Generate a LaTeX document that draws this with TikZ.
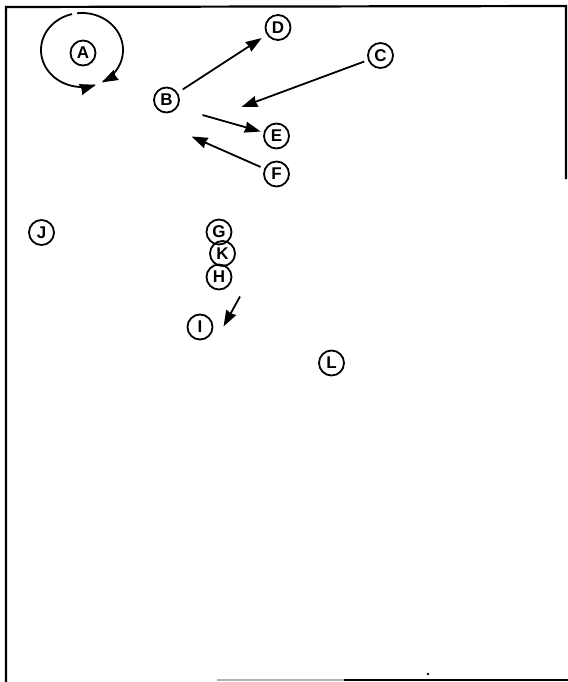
\documentclass[tikz,border=0pt]{standalone}
\usepackage{fontspec}
\newfontfamily\labfont{Liberation Sans}
\usetikzlibrary{arrows.meta}
\tikzset{
  lbl/.style={circle,draw,line width=1.8pt,minimum size=25pt,inner sep=0pt,
    font=\labfont\bfseries\fontsize{17}{17}\selectfont},
  arr/.style={line width=1.8pt,-{Stealth[length=16pt,width=11pt,inset=1pt]}},
  frame/.style={line width=2.2pt,line cap=rect}
}
\begin{document}
\begin{tikzpicture}[x=1pt,y=-1pt]
\useasboundingbox (0,0) rectangle (567,682);
% frame
\coordinate (tl) at (6,7);
\coordinate (tr) at (566,6);
\coordinate (rb) at (566,178);
\coordinate (bl) at (6,681);
\coordinate (b1) at (218,680);
\coordinate (b2) at (345,680);
\coordinate (br) at (567,680);
\draw[frame] (bl) -- (tl) -- (tr) -- (rb);
\draw[frame,gray!60] (b1) -- (b2);
\draw[frame] (b2) -- (br);
\fill (428,674) circle (1.3pt);
% nodes
\node[lbl] (A) at (83,53) {A};
\node[lbl] (B) at (166.5,100) {B};
\node[lbl] (D) at (278,27.5) {D};
\node[lbl] (C) at (380.5,55.5) {C};
\node[lbl] (E) at (276.5,136) {E};
\node[lbl] (F) at (276.5,174) {F};
\node[lbl] (J) at (41.5,232.5) {J};
\node[lbl] (K) at (222.5,253.5) {K};
\node[lbl] (G) at (219,232) {G};
\node[lbl] (H) at (219,277) {H};
\node[lbl] (I) at (200,327) {I};
\node[lbl] (L) at (331.5,363) {L};
% loop around A
\draw[arr] plot[domain=104:290,samples=60,smooth] ({82+41*cos(\x)},{50-37*sin(\x)});
\draw[arr] plot[domain=97:-61,samples=60,smooth] ({82+41*cos(\x)},{50-37*sin(\x)});
% arrows
\coordinate (c1) at (241.5,107);
\coordinate (e0) at (202.5,115);
\coordinate (f1) at (191.5,136.5);
\coordinate (i0) at (240,296.5);
\coordinate (i1) at (223.5,326.5);
\draw[arr,shorten <=6pt,shorten >=6pt] (B) -- (D);
\draw[arr,shorten <=4pt] (C) -- (c1);
\draw[arr,shorten >=3pt] (e0) -- (E);
\draw[arr,shorten <=4pt] (F) -- (f1);
\draw[arr] (i0) -- (i1);
\end{tikzpicture}
\end{document}
